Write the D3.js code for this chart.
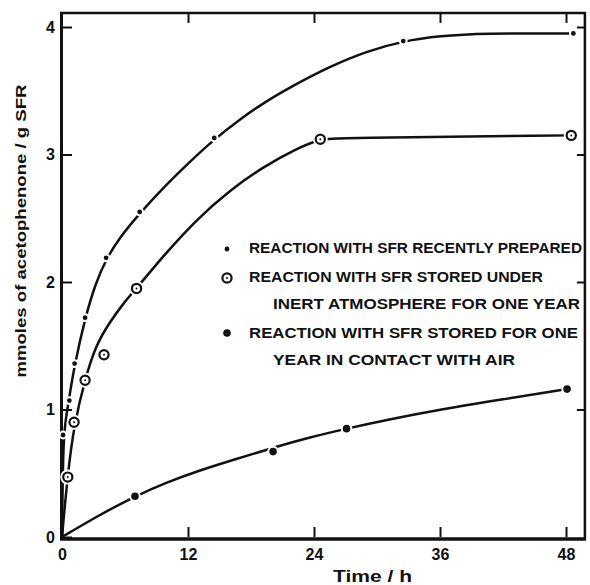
<!DOCTYPE html>
<html>
<head>
<meta charset="utf-8">
<script src="https://cdn.jsdelivr.net/npm/d3@7"></script>
<style>
  body { margin: 0; background: #fff; }
  text { font-family: "Liberation Sans", Arial, sans-serif; fill: #111; }
</style>
</head>
<body>
<svg id="chart" width="590" height="585"></svg>
<script>
// measured points (time in h, mmoles acetophenone / g SFR)
const recentTime = [0.1, 0.7, 1.2, 2.2, 4.2, 7.4, 14.5, 32.5, 48.7];
const recentVal = [0.8, 1.07, 1.36, 1.72, 2.19, 2.55, 3.13, 3.89, 3.95];

const inertTime = [0.55, 1.15, 2.2, 4.0, 7.1, 24.6, 48.5];
const inertVal = [0.47, 0.9, 1.23, 1.43, 1.95, 3.12, 3.15];

const airTime = [6.95, 20.1, 27.1, 48.1];
const airVal = [0.32, 0.67, 0.85, 1.16];

// hand-drawn fitted curves
const recentCurveTime = [0, 0.1, 0.3, 0.7, 1.2, 2.2, 3.2, 4.2, 5.5, 7.4, 10, 12, 14.5, 17, 19.1, 22, 25.5, 29, 32.5, 36, 40, 48.7];
const recentCurveVal = [0, 0.7, 0.9, 1.1, 1.35, 1.72, 1.99, 2.18, 2.35, 2.54, 2.77, 2.93, 3.12, 3.28, 3.4, 3.54, 3.69, 3.81, 3.89, 3.93, 3.95, 3.95];

const inertCurveTime = [0, 0.55, 1.15, 2.2, 3.2, 4.5, 6, 7.1, 9.6, 12.8, 16, 19.1, 22.4, 24.6, 26, 48.5];
const inertCurveVal = [0, 0.5, 0.88, 1.24, 1.5, 1.68, 1.85, 1.95, 2.2, 2.49, 2.72, 2.9, 3.05, 3.12, 3.13, 3.15];

const airCurveTime = [0, 3.5, 6.95, 10, 13, 16.5, 20.1, 23.5, 27.1, 31, 36, 42, 48.1];
const airCurveVal = [0, 0.17, 0.32, 0.43, 0.52, 0.61, 0.7, 0.78, 0.85, 0.92, 1.0, 1.08, 1.16];

const xTicks = [0, 12, 24, 36, 48];
const yTicks = [0, 1, 2, 3, 4];

const legendRows = [
  { kind: "recent", lines: ["REACTION WITH SFR RECENTLY PREPARED"] },
  { kind: "inert", lines: ["REACTION WITH SFR STORED UNDER", "INERT ATMOSPHERE FOR ONE YEAR"] },
  { kind: "air", lines: ["REACTION WITH SFR STORED FOR ONE", "YEAR IN CONTACT WITH AIR"] },
];

const svg = d3.select("#chart");

const x = d3.scaleLinear().domain([0, 48]).range([62, 566]);
const y = d3.scaleLinear().domain([0, 4]).range([537, 27]);
const xMax = 49.8, yMax = 4.11;

// axes with inward ticks
svg.append("g")
  .attr("transform", `translate(0,${y(0)})`)
  .call(d3.axisBottom(x).tickValues(xTicks).tickSize(-10).tickPadding(12).tickFormat(d3.format("d")))
  .call(g => g.select(".domain").remove())
  .call(g => g.selectAll("line").attr("stroke", "#111").attr("stroke-width", 2))
  .call(g => g.selectAll("text").attr("font-size", 16).attr("font-weight", "bold").attr("fill", "#111"));

svg.append("g")
  .attr("transform", `translate(${x(0)},0)`)
  .call(d3.axisLeft(y).tickValues(yTicks).tickSize(-10).tickPadding(7).tickFormat(d3.format("d")))
  .call(g => g.select(".domain").remove())
  .call(g => g.selectAll("line").attr("stroke", "#111").attr("stroke-width", 2))
  .call(g => g.selectAll("text").attr("font-size", 16).attr("font-weight", "bold").attr("fill", "#111"));

svg.append("g")
  .attr("transform", `translate(0,${y(yMax)})`)
  .call(d3.axisTop(x).tickValues(xTicks.slice(1)).tickSize(-10).tickFormat(""))
  .call(g => g.select(".domain").remove())
  .call(g => g.selectAll("line").attr("stroke", "#111").attr("stroke-width", 2));

svg.append("g")
  .attr("transform", `translate(${x(xMax)},0)`)
  .call(d3.axisRight(y).tickValues(yTicks.slice(1)).tickSize(-8).tickFormat(""))
  .call(g => g.select(".domain").remove())
  .call(g => g.selectAll("line").attr("stroke", "#111").attr("stroke-width", 2));

// frame
const frame = svg.append("g").attr("stroke", "#111").attr("fill", "none");
frame.append("line").attr("x1", x(0) - 0.5).attr("x2", x(0) - 0.5)
  .attr("y1", y(yMax) - 1).attr("y2", y(0) + 3).attr("stroke-width", 3);
frame.append("line").attr("x1", x(0) - 2).attr("x2", x(xMax) + 1)
  .attr("y1", y(0) + 2).attr("y2", y(0) + 2).attr("stroke-width", 3.5);
frame.append("line").attr("x1", x(0) - 2).attr("x2", x(xMax) + 1)
  .attr("y1", y(yMax)).attr("y2", y(yMax)).attr("stroke-width", 2.5);
frame.append("line").attr("x1", x(xMax)).attr("x2", x(xMax))
  .attr("y1", y(yMax) - 1).attr("y2", y(0) + 3).attr("stroke-width", 2.5);

// curves
const line = d3.line()
  .x(d => x(d[0]))
  .y(d => y(d[1]))
  .curve(d3.curveBasis);

const curves = [
  d3.zip(recentCurveTime, recentCurveVal),
  d3.zip(inertCurveTime, inertCurveVal),
  d3.zip(airCurveTime, airCurveVal),
];

svg.append("g").selectAll("path")
  .data(curves)
  .enter()
  .append("path")
  .attr("d", line)
  .attr("fill", "none")
  .attr("stroke", "#111")
  .attr("stroke-width", 2.5)
  .attr("stroke-linejoin", "round");

// markers
function drawMarker(g, kind, cx, cy) {
  if (kind == "recent") {
    g.append("circle").attr("cx", cx).attr("cy", cy).attr("r", 3.4)
      .attr("fill", "#111").attr("stroke", "#fff").attr("stroke-width", 2);
  } else if (kind == "inert") {
    g.append("circle").attr("cx", cx).attr("cy", cy).attr("r", 5)
      .attr("fill", "#fff").attr("stroke", "#fff").attr("stroke-width", 5);
    g.append("circle").attr("cx", cx).attr("cy", cy).attr("r", 4.6)
      .attr("fill", "#fff").attr("stroke", "#111").attr("stroke-width", 2.2);
    g.append("circle").attr("cx", cx).attr("cy", cy).attr("r", 1)
      .attr("fill", "#111");
  } else {
    g.append("circle").attr("cx", cx).attr("cy", cy).attr("r", 4.8)
      .attr("fill", "#111").attr("stroke", "#fff").attr("stroke-width", 2);
  }
}

const pts = svg.append("g");
d3.zip(recentTime, recentVal).forEach(d => drawMarker(pts, "recent", x(d[0]), y(d[1])));
d3.zip(inertTime, inertVal).forEach(d => drawMarker(pts, "inert", x(d[0]), y(d[1])));
d3.zip(airTime, airVal).forEach(d => drawMarker(pts, "air", x(d[0]), y(d[1])));

// legend
const legendMarkerY = [249, 278, 333];
const legendLineY = [[253], [282, 309], [338, 365]];
const legendLineX = [[249], [249, 273], [249, 273]];
const legendLineW = [[333], [294, 307], [329, 242]];

const legend = svg.append("g");
legendRows.forEach((row, i) => {
  drawMarker(legend, row.kind, 227, legendMarkerY[i]);
  row.lines.forEach((t, j) => {
    legend.append("text")
      .attr("x", legendLineX[i][j])
      .attr("y", legendLineY[i][j])
      .attr("font-size", 14.5)
      .attr("font-weight", "bold")
      .attr("textLength", legendLineW[i][j])
      .attr("lengthAdjust", "spacingAndGlyphs")
      .text(t);
  });
});

// axis titles
svg.append("text")
  .attr("transform", "translate(26,231) rotate(-90)")
  .attr("text-anchor", "middle")
  .attr("font-size", 15)
  .attr("font-weight", "bold")
  .attr("textLength", 293)
  .attr("lengthAdjust", "spacingAndGlyphs")
  .text("mmoles of acetophenone / g SFR");

svg.append("text")
  .attr("x", 333)
  .attr("y", 582)
  .attr("font-size", 17)
  .attr("font-weight", "bold")
  .attr("textLength", 79)
  .attr("lengthAdjust", "spacingAndGlyphs")
  .text("Time / h");
</script>
</body>
</html>
